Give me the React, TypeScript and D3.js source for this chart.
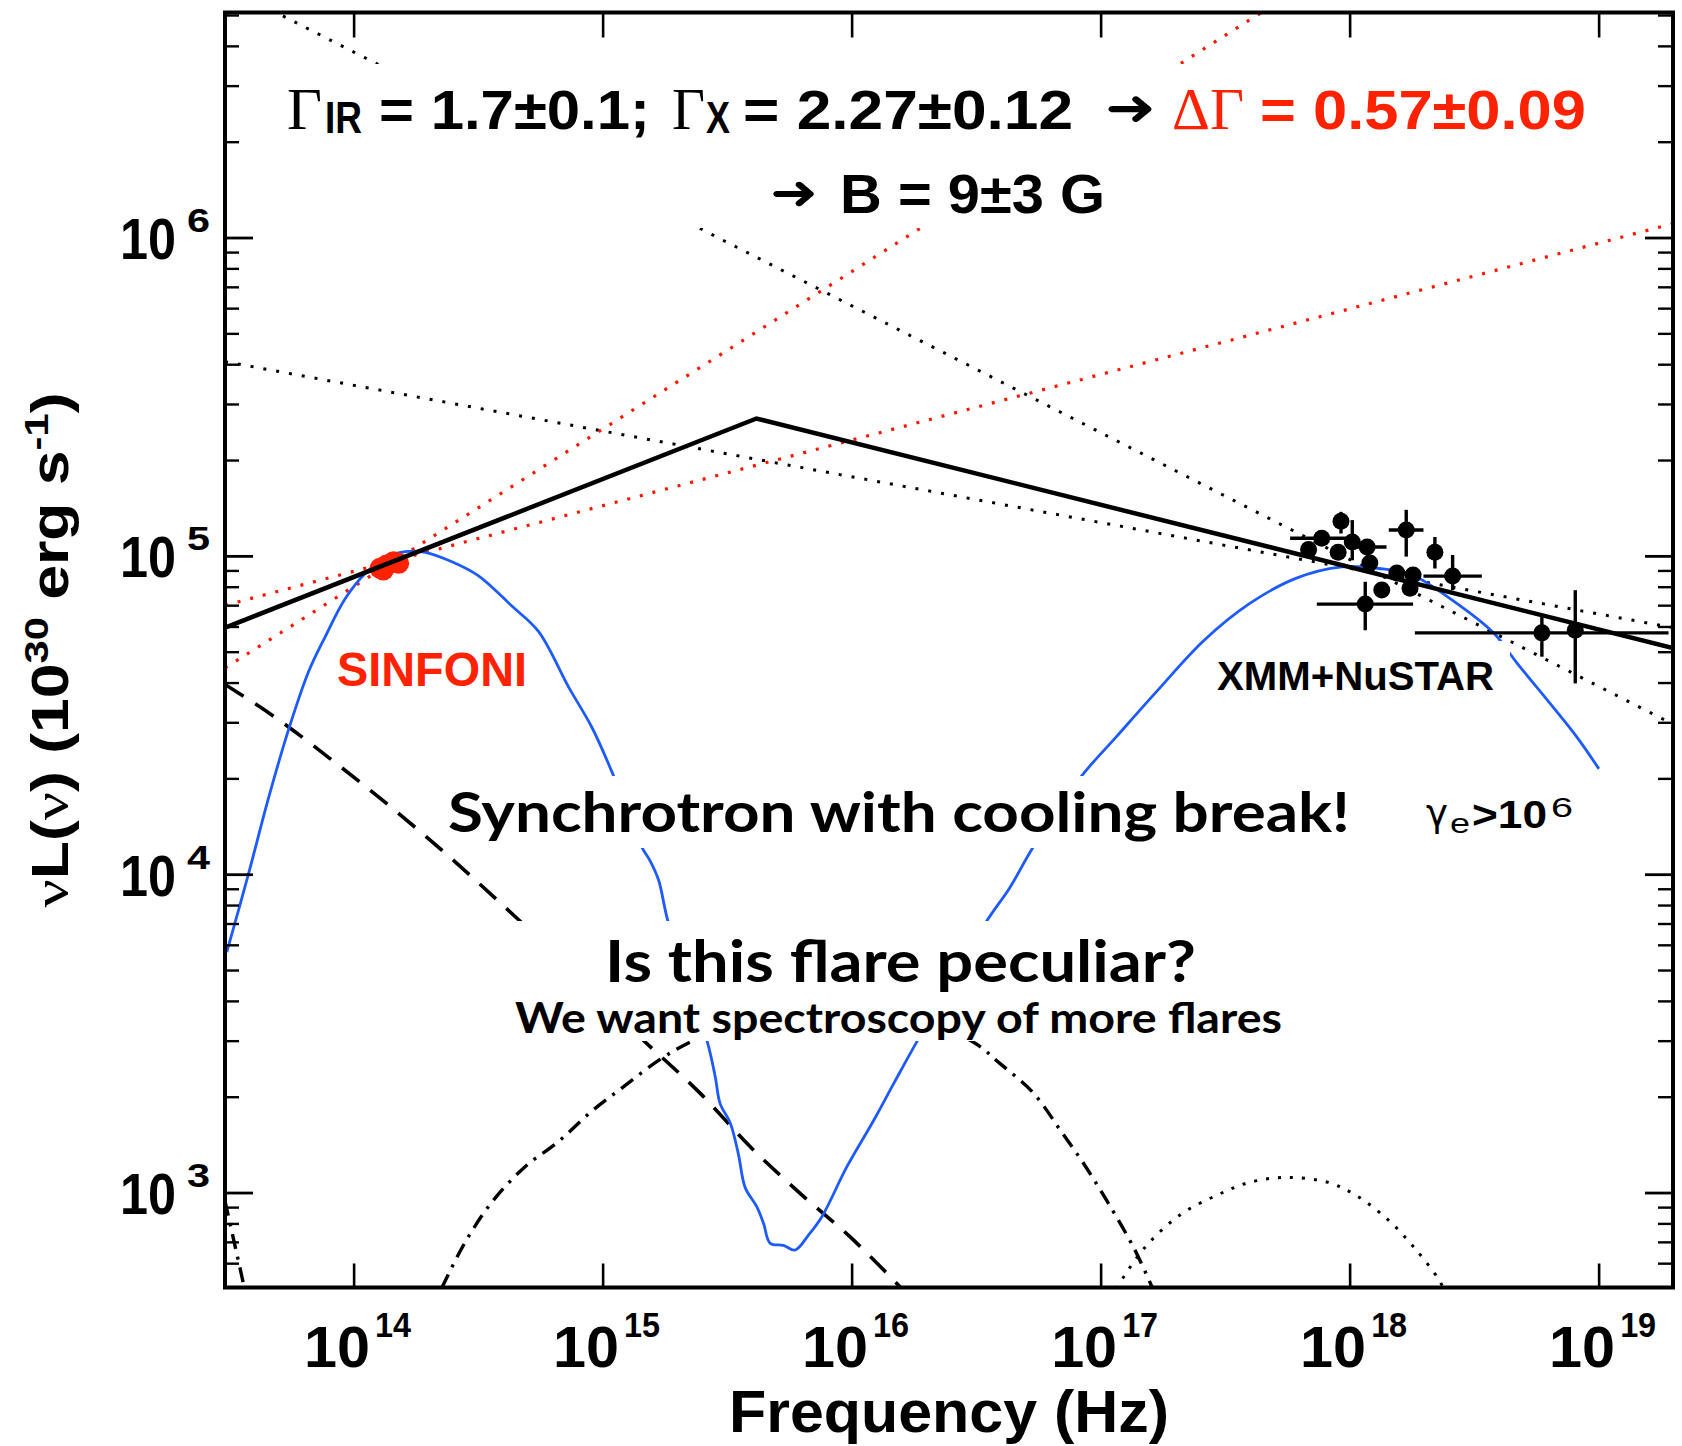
import * as d3 from 'd3';

// axis limits and decades
const nuLimits = [3.03e13, 1.98e19];
const lumLimits = [505, 5.11e6];
const xDecades = [14, 15, 16, 17, 18, 19];
const yDecades = [3, 4, 5, 6];

// black solid broken power law
const brokenNu = [3.03e13, 4.13e15, 1.98e19];
const brokenL = [5.97e4, 2.71e5, 5.15e4];

// dotted power-law bounds (black) and IR slope bounds (red)
const xSteepNu = [3.03e13, 1.98e19];
const xSteepL = [6.17e6, 2.97e4];
const xFlatNu = [3.03e13, 1.98e19];
const xFlatL = [4.09e5, 5.97e4];
const irSteepNu = [3.03e13, 1e18];
const irSteepL = [4.46e4, 7.67e6];
const irFlatNu = [3.03e13, 1.98e19];
const irFlatL = [7.02e4, 1.11e6];

// synchrotron model (blue)
const synNu = [3.08e13, 3.77e13, 4.53e13, 5.45e13, 6.56e13, 7.66e13, 9.2e13, 1.11e14, 1.33e14, 1.6e14,
  1.93e14, 2.47e14, 3.16e14, 4.3e14, 5.5e14, 7.26e14, 9.02e14, 1.1e15, 1.43e15, 1.55e15,
  1.67e15, 1.83e15, 2.61e15, 2.82e15, 2.95e15, 3.24e15, 3.49e15, 3.72e15, 4.14e15, 4.41e15,
  4.69e15, 5.3e15, 5.9e15, 6.68e15, 7.55e15, 9.53e15, 1.22e16, 1.47e16, 1.82e16, 3.41e16,
  4.31e16, 5.33e16, 8.34e16, 1.15e17, 1.69e17, 2.58e17, 3.94e17, 6.05e17, 9.27e17, 1.3e18,
  1.75e18, 2.69e18, 3.78e18, 4.68e18, 6.3e18, 8.13e18, 9.98e18];
const synL = [5.71e3, 1.01e4, 1.74e4, 2.85e4, 4.34e4, 5.6e4, 7.36e4, 8.85e4, 9.89e4, 1.035e5,
  1.03e5, 9.62e4, 8.69e4, 6.98e4, 5.81e4, 3.89e4, 2.9e4, 2.05e4, 1.22e4, 1.1e4,
  9.62e3, 7.03e3, 3.02e3, 2.32e3, 1.91e3, 1.66e3, 1.33e3, 1.04e3, 906, 802,
  695, 685, 662, 738, 841, 1.21e3, 1.69e3, 2.21e3, 2.99e3, 7.0e3,
  9.14e3, 1.22e4, 2.04e4, 2.71e4, 3.8e4, 5.43e4, 7.1e4, 8.53e4, 9.27e4, 9.16e4,
  8.79e4, 7.1e4, 5.73e4, 4.62e4, 3.48e4, 2.71e4, 2.15e4];

// dashed component
const dashNu = [3.03e13, 4.82e13, 8.39e13, 1.42e14, 2.47e14, 4.44e14, 1.45e15, 2.45e15, 3.89e15, 6.18e15, 9.82e15, 1.56e16];
const dashL = [3.96e4, 3.12e4, 2.25e4, 1.62e4, 1.12e4, 7.38e3, 3.02e3, 2.06e3, 1.4e3, 998, 728, 507];

// dash-dot hump
const humpNu = [2.25e14, 2.79e14, 3.57e14, 4.86e14, 6.61e14, 9.02e14, 1.22e15, 1.67e15, 2.2e15, 3.98e15,
  7.94e15, 1.58e16, 3.06e16, 3.93e16, 5.35e16, 6.84e16, 8.49e16, 1.05e17, 1.36e17, 1.61e17];
const humpL = [504, 700, 935, 1.21e3, 1.45e3, 1.81e3, 2.17e3, 2.61e3, 2.96e3, 3.63e3,
  3.98e3, 3.63e3, 2.98e3, 2.55e3, 2.06e3, 1.58e3, 1.24e3, 951, 667, 502];
const cornerNu = [3.03e13, 3.65e13];
const cornerL = [944, 492];

// dotted hump
const dotNu = [1.15e17, 1.48e17, 2.08e17, 2.93e17, 3.94e17, 5.56e17, 8.15e17, 1.05e18, 1.42e18, 1.83e18, 2.26e18, 2.36e18];
const dotL = [501, 667, 855, 986, 1.08e3, 1.12e3, 1.08e3, 986, 824, 667, 538, 505];

// SINFONI points
const irNu = [1.27e14, 1.31e14, 1.35e14, 1.44e14, 1.51e14];
const irL = [9.17e4, 9.06e4, 9.4e4, 9.62e4, 9.51e4];

// XMM+NuSTAR points
const xNu = [9.19e17, 7.69e17, 6.81e17, 8.95e17, 1.02e18, 1.17e18, 1.2e18, 1.68e18, 2.19e18, 1.54e18, 1.34e18, 1.79e18, 1.74e18, 2.58e18, 1.15e18, 5.89e18, 8.02e18];
const xL = [1.29e5, 1.14e5, 1.05e5, 1.03e5, 1.11e5, 1.07e5, 9.53e4, 1.21e5, 1.03e5, 8.87e4, 7.84e4, 8.74e4, 7.94e4, 8.67e4, 7.08e4, 5.75e4, 5.86e4];
const xNuLo = [8.8e17, 5.74e17, 6.5e17, 8.6e17, 9.8e17, 1.0e18, 1.15e18, 1.43e18, 2.1e18, 1.48e18, 1.29e18, 1.72e18, 1.67e18, 1.97e18, 7.35e17, 1.82e18, 7.7e18];
const xNuHi = [9.6e17, 1.0e18, 7.1e17, 9.3e17, 1.06e18, 1.4e18, 1.25e18, 1.97e18, 2.28e18, 1.6e18, 1.39e18, 1.86e18, 1.81e18, 3.38e18, 1.79e18, 1.9e19, 8.35e18];
const xLLo = [1.18e5, 1.1e5, 1.01e5, 9.9e4, 9.72e4, 1.03e5, 9.1e4, 9.98e4, 9.16e4, 8.5e4, 7.5e4, 8.4e4, 7.6e4, 7.83e4, 5.86e4, 4.84e4, 3.99e4];
const xLHi = [1.38e5, 1.18e5, 1.09e5, 1.07e5, 1.3e5, 1.11e5, 1.0e5, 1.4e5, 1.15e5, 9.3e4, 8.2e4, 9.1e4, 8.3e4, 1.01e5, 8.32e4, 6.46e4, 7.83e4];

const W = 1682;
const H = 1446;
const left = 225, right = 1673, top = 12.5, bottom = 1287.5;

const sans = "'Liberation Sans', Arial, Helvetica, sans-serif";
const serif = "'Liberation Serif', 'Times New Roman', serif";
const round = "Lato, 'Open Sans', sans-serif";
const red = '#ff2200';
const blue = '#1e5bff';

function App() {
  const x = d3.scaleLog().domain(nuLimits).range([left, right]);
  const y = d3.scaleLog().domain(lumLimits).range([bottom, top]);

  const line = d3.line<[number, number]>().x(d => x(d[0])).y(d => y(d[1]));
  const smooth = d3.line<[number, number]>().x(d => x(d[0])).y(d => y(d[1])).curve(d3.curveMonotoneX);
  const spline = d3.line<[number, number]>().x(d => x(d[0])).y(d => y(d[1])).curve(d3.curveCatmullRom.alpha(0.5));
  const path = (a: number[], b: number[], s = line) => s(d3.zip(a, b) as [number, number][]) || '';

  const minor = y.ticks().filter(v => !yDecades.some(k => Math.abs(v - Math.pow(10, k)) < 1e-6 * v));

  return (
    <svg width={W} height={H} style={{ position: 'absolute', left: 0, top: 0, background: '#fff' }}>
      <defs>
        <clipPath id="plot">
          <rect x={left} y={top} width={right - left} height={bottom - top} />
        </clipPath>
      </defs>

      <g clipPath="url(#plot)" fill="none">
        <path d={path(xSteepNu, xSteepL)} stroke="#000" strokeWidth={3} strokeDasharray="3 10" />
        <path d={path(xFlatNu, xFlatL)} stroke="#000" strokeWidth={3} strokeDasharray="3 10" />
        <path d={path(irSteepNu, irSteepL)} stroke="#ff1500" strokeWidth={3.2} strokeDasharray="3 10" />
        <path d={path(irFlatNu, irFlatL)} stroke="#ff1500" strokeWidth={3.2} strokeDasharray="3 10" />
        <path d={path(dashNu, dashL, smooth)} stroke="#000" strokeWidth={3.6} strokeDasharray="22 14" />
        <path d={path(humpNu, humpL, spline)} stroke="#000" strokeWidth={3.4} strokeDasharray="15 8 3 8" />
        <path d={path(cornerNu, cornerL)} stroke="#000" strokeWidth={3.4} strokeDasharray="15 8 3 8" />
        <path d={path(dotNu, dotL, spline)} stroke="#000" strokeWidth={3} strokeDasharray="3 9" />
        <path d={path(synNu, synL, spline)} stroke={blue} strokeWidth={2.8} strokeLinejoin="round" />
        {irNu.map((v, i) => (
          <circle key={i} cx={x(v)} cy={y(irL[i])} r={10.5} fill={red} stroke="none" />
        ))}
        <path d={path(brokenNu, brokenL)} stroke="#000" strokeWidth={4.5} />
      </g>

      {/* white boxes behind annotations */}
      <rect x={280} y={64} width={1320} height={164} fill="#fff" />
      <rect x={445} y={776} width={915} height={72} fill="#fff" />
      <rect x={512} y={921} width={773} height={120} fill="#fff" />
      <rect x={1210} y={641} width={300} height={55} fill="#fff" />

      {/* top annotation */}
      <g fontWeight="bold" fill="#000">
        <text x={287} y={129} fontFamily={serif} fontWeight="normal" fontSize={60} textLength={35} lengthAdjust="spacingAndGlyphs">Γ</text>
        <text x={325} y={133} fontFamily={sans} fontSize={44} textLength={37} lengthAdjust="spacingAndGlyphs">IR</text>
        <text x={379} y={129} fontFamily={sans} fontSize={56} textLength={271} lengthAdjust="spacingAndGlyphs">= 1.7±0.1;</text>
        <text x={672} y={129} fontFamily={serif} fontWeight="normal" fontSize={60} textLength={33} lengthAdjust="spacingAndGlyphs">Γ</text>
        <text x={706} y={133} fontFamily={sans} fontSize={44} textLength={24} lengthAdjust="spacingAndGlyphs">X</text>
        <text x={743} y={129} fontFamily={sans} fontSize={56} textLength={330} lengthAdjust="spacingAndGlyphs">= 2.27±0.12</text>
        <text x={1105} y={125} fontFamily="'DejaVu Sans', sans-serif" fontSize={50} textLength={51} lengthAdjust="spacingAndGlyphs">➜</text>
        <text x={1172} y={129} fontFamily={serif} fontWeight="normal" fontSize={60} fill={red} textLength={72} lengthAdjust="spacingAndGlyphs">ΔΓ</text>
        <text x={1260} y={129} fontFamily={sans} fontSize={56} fill={red} textLength={326} lengthAdjust="spacingAndGlyphs">= 0.57±0.09</text>
        <text x={770} y={209} fontFamily="'DejaVu Sans', sans-serif" fontSize={48} textLength={48} lengthAdjust="spacingAndGlyphs">➜</text>
        <text x={840} y={213} fontFamily={sans} fontSize={56} textLength={265} lengthAdjust="spacingAndGlyphs">B = 9±3 G</text>
      </g>

      {/* labels inside the plot */}
      <text x={337} y={686} fontFamily={sans} fontWeight="bold" fontSize={48} fill={red} textLength={190} lengthAdjust="spacingAndGlyphs">SINFONI</text>
      <text x={1217} y={690} fontFamily={sans} fontWeight="bold" fontSize={40} textLength={277} lengthAdjust="spacingAndGlyphs">XMM+NuSTAR</text>
      <text x={448} y={832} fontFamily={round} fontWeight={700} fontSize={55} textLength={902} lengthAdjust="spacingAndGlyphs">Synchrotron with cooling break!</text>
      <text x={605} y={982} fontFamily={round} fontWeight={700} fontSize={57} textLength={591} lengthAdjust="spacingAndGlyphs">Is this flare peculiar?</text>
      <text x={515} y={1033} fontFamily={round} fontWeight={700} fontSize={42} textLength={767} lengthAdjust="spacingAndGlyphs">We want spectroscopy of more flares</text>
      <g fill="#000">
        <text x={1426} y={826} fontFamily="'DejaVu Sans', sans-serif" fontSize={38} textLength={22} lengthAdjust="spacingAndGlyphs">γ</text>
        <text x={1450} y={833} fontFamily={sans} fontSize={28} textLength={20} lengthAdjust="spacingAndGlyphs">e</text>
        <text x={1472} y={828} fontFamily={sans} fontWeight="bold" fontSize={39} textLength={75} lengthAdjust="spacingAndGlyphs">&gt;10</text>
        <text x={1551} y={817} fontFamily={sans} fontSize={28} textLength={22} lengthAdjust="spacingAndGlyphs">6</text>
      </g>

      {/* X-ray data */}
      <g stroke="#000" strokeWidth={3.4} fill="#000">
        {xNu.map((v, i) => (
          <g key={i}>
            <line x1={x(xNuLo[i])} x2={x(xNuHi[i])} y1={y(xL[i])} y2={y(xL[i])} />
            <line x1={x(v)} x2={x(v)} y1={y(xLLo[i])} y2={y(xLHi[i])} />
            <circle cx={x(v)} cy={y(xL[i])} r={8.5} stroke="none" />
          </g>
        ))}
      </g>

      {/* frame and ticks */}
      <g stroke="#000" fill="none">
        <rect x={left} y={top} width={right - left} height={bottom - top} strokeWidth={4} />
        {xDecades.map(k => {
          const px = x(Math.pow(10, k));
          return (
            <g key={k} strokeWidth={2.6}>
              <line x1={px} x2={px} y1={bottom} y2={bottom - 24} />
              <line x1={px} x2={px} y1={top} y2={top + 25} />
            </g>
          );
        })}
        {yDecades.map(k => {
          const py = y(Math.pow(10, k));
          return (
            <g key={k} strokeWidth={2.8}>
              <line x1={left} x2={left + 28} y1={py} y2={py} />
              <line x1={right} x2={right - 28} y1={py} y2={py} />
            </g>
          );
        })}
        {minor.map((v, i) => (
          <g key={i} strokeWidth={2.4}>
            <line x1={left} x2={left + 14} y1={y(v)} y2={y(v)} />
            <line x1={right} x2={right - 15} y1={y(v)} y2={y(v)} />
          </g>
        ))}
      </g>

      {/* tick labels */}
      <g fontFamily={sans} fontWeight="bold" fill="#000">
        {xDecades.map(k => {
          const px = x(Math.pow(10, k));
          return (
            <g key={k}>
              <text x={px - 50} y={1367} fontSize={58} textLength={66} lengthAdjust="spacingAndGlyphs">10</text>
              <text x={px + 21} y={1337} fontSize={35} textLength={36} lengthAdjust="spacingAndGlyphs">{k}</text>
            </g>
          );
        })}
        {yDecades.map(k => {
          const py = y(Math.pow(10, k));
          return (
            <g key={k}>
              <text x={120} y={py + 21} fontSize={58} textLength={56} lengthAdjust="spacingAndGlyphs">10</text>
              <text x={187} y={py - 6} fontSize={34} textLength={23} lengthAdjust="spacingAndGlyphs">{k}</text>
            </g>
          );
        })}
      </g>

      {/* axis titles */}
      <text x={949} y={1432} textAnchor="middle" fontFamily={sans} fontWeight="bold" fontSize={60} textLength={440} lengthAdjust="spacingAndGlyphs">Frequency (Hz)</text>
      <text transform="translate(68,650) rotate(-90)" textAnchor="middle" fontFamily={sans} fontWeight="bold" fontSize={51} textLength={515} lengthAdjust="spacingAndGlyphs">
        <tspan fontFamily={serif} fontWeight="normal">ν</tspan>L(<tspan fontFamily={serif} fontWeight="normal">ν</tspan>) (10<tspan fontSize={34} dy={-20}>30</tspan><tspan dy={20}> erg s</tspan><tspan fontSize={34} dy={-20}>-1</tspan><tspan dy={20}>)</tspan>
      </text>
    </svg>
  );
}

export default App;
